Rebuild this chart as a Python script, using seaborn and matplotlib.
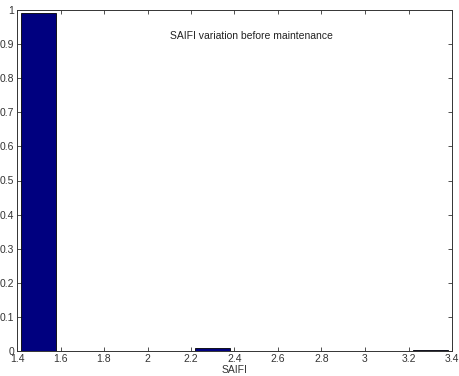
import matplotlib
matplotlib.use('Agg')
import matplotlib.pyplot as plt
import seaborn as sns
import numpy as np

# histogram bins (centres) and relative frequency of SAIFI
bin_centers = [1.5, 1.7, 1.9, 2.1, 2.3, 2.5, 2.7, 2.9, 3.1, 3.3]
rel_freq = [0.99, 0.0, 0.0, 0.0, 0.008, 0.0, 0.0, 0.0, 0.0, 0.002]
x_ticks = [1.4, 1.6, 1.8, 2.0, 2.2, 2.4, 2.6, 2.8, 3.0, 3.2, 3.4]
x_tick_labels = ['1.4', '1.6', '1.8', '2', '2.2', '2.4', '2.6', '2.8', '3', '3.2', '3.4']
y_ticks = [0, 0.1, 0.2, 0.3, 0.4, 0.5, 0.6, 0.7, 0.8, 0.9, 1.0]
y_tick_labels = ['0', '0.1', '0.2', '0.3', '0.4', '0.5', '0.6', '0.7', '0.8', '0.9', '1']

sns.set_theme(style="ticks")
plt.rcParams['font.family'] = ['Liberation Sans', 'DejaVu Sans']
plt.rcParams['xtick.direction'] = 'in'
plt.rcParams['ytick.direction'] = 'in'

fig = plt.figure(figsize=(4.59, 3.76), dpi=100)
ax = fig.add_axes([17/459, 1 - 351/376, 435/459, 341/376])

sns.histplot(x=bin_centers, weights=rel_freq, binwidth=0.2, binrange=(1.4, 3.4),
             shrink=0.8, color='#00007F', edgecolor='black', linewidth=0.6,
             alpha=1.0, ax=ax)

ax.set_xlim(1.4, 3.4)
ax.set_ylim(0, 1)
ax.set_xticks(x_ticks)
ax.set_xticklabels(x_tick_labels, fontsize=7.5, color='#333333')
ax.set_yticks(y_ticks)
ax.set_yticklabels(y_tick_labels, fontsize=7.5, color='#333333')
ax.tick_params(top=True, right=True, length=3, width=0.6, pad=2, color='#333333')
for s in ax.spines.values():
    s.set_linewidth(0.7)
    s.set_color('#333333')
ax.set_ylabel('')
ax.set_xlabel('SAIFI', fontsize=7.5, labelpad=1, color='#333333')
ax.text(2.48, 0.925, 'SAIFI variation before maintenance', ha='center', va='center',
        fontsize=7.5, color='#222222')

fig.savefig('out.png', dpi=100)
